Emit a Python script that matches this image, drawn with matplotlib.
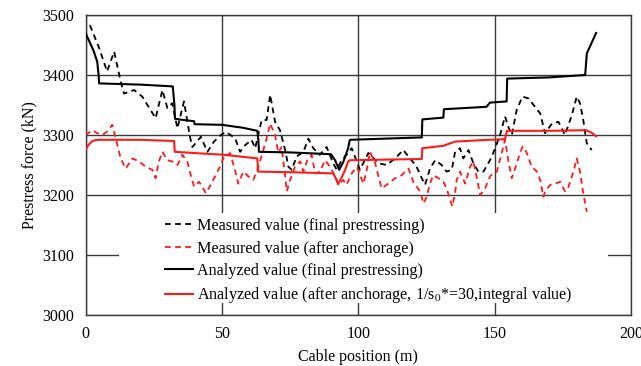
import matplotlib
matplotlib.use("Agg")
import matplotlib.pyplot as plt
from matplotlib.patches import Rectangle

plt.rcParams['font.family'] = ['Liberation Serif', 'DejaVu Serif']
plt.rcParams['mathtext.fontset'] = 'stix'

# measured value (final prestressing)
meas_final_x = [1.6, 5, 7.9, 10.5, 12.9, 14.1, 17.8, 20.8, 25.7, 28.2, 30, 31.8, 33.7, 36.1, 38.3,
                39.2, 42.3, 44.7, 47.1, 49.6, 51.5, 54.8, 56.7, 58.5, 60.9, 62.2, 64.6, 66.4, 67.7, 69.5,
                71.3, 73.2, 74.4, 75.6, 77.4, 79.9, 81.7, 83.5, 85.9, 88.4, 90.8, 92.1, 93.9, 95.7, 97.6,
                100.6, 103.7, 107.4, 110.4, 113.5, 116.5, 119, 121.4, 123.3, 124.5, 126.3, 128.2, 130.6,
                132.4, 134.3, 135.5, 137.3, 138.5, 140.4, 142.2, 144, 145.9, 148.3, 149.5, 152, 153.8,
                155, 156.3, 158.1, 160.2, 162.4, 164.8, 166.7, 168.5, 171, 173.4, 175.8, 178.3, 180.1,
                181.3, 182.5, 183.8, 185.6]
meas_final_y = [3483, 3445, 3406, 3439, 3389, 3369, 3375, 3364, 3328, 3375, 3345, 3353, 3311, 3356, 3297,
                3280, 3297, 3272, 3289, 3300, 3305, 3295, 3272, 3283, 3292, 3278, 3325, 3325, 3367, 3322,
                3308, 3275, 3247, 3242, 3264, 3272, 3294, 3278, 3267, 3280, 3253, 3242, 3258, 3267, 3278,
                3242, 3270, 3253, 3250, 3261, 3275, 3261, 3247, 3228, 3217, 3244, 3258, 3250,
                3239, 3242, 3272, 3278, 3261, 3275, 3253, 3239, 3239, 3258, 3270, 3300, 3331,
                3314, 3300, 3342, 3364, 3361, 3347, 3336, 3303, 3319, 3322, 3300, 3333, 3364,
                3353, 3325, 3286, 3275]

# measured value (after anchorage)
meas_anch_x = [0, 2.5, 4.3, 6.2, 8, 9.8, 11.7, 12.9, 14.7, 17.2, 19.6, 22.1, 24.5, 25.7, 26.9,
               28.2, 30, 31.8, 33.7, 35.5, 37.3, 38.6, 39.8, 41.6, 42.8, 44.1, 45.9, 47.7, 49.6, 50.5,
               53, 54.8, 56, 57.9, 59.7, 61.5, 63.4, 65.2, 66.4, 67.7, 69.5, 70.7, 71.9, 73.2, 73.8,
               75, 76.8, 78.7, 79.9, 81.3, 82.9, 84.2, 86, 87.8, 89.7, 91.5, 92.7, 94.5, 95.7, 97.6,
               99.5, 101.9, 103.1, 104.3, 106.2, 107.4, 108.6, 111, 113.5, 115.9, 118.4, 120.2, 121.4,
               122.7, 123.9, 125.1, 126.3, 127.5, 129.4, 131.2, 132.4, 133.7, 134.5, 135.5, 136.1,
               137.3, 139.2, 141, 142.2, 143.5, 144.7, 146.5, 148.3, 149.5, 150.8, 152.6, 153.8, 155,
               156.3, 157.5, 159.3, 160.3, 161.8, 163.6, 165.5, 166.7, 167.9, 168.5, 170.4, 172.2,
               174, 175.8, 177.1, 178.9, 180.1, 181.3, 182.5, 183.8]
meas_anch_y = [3300, 3308, 3303, 3300, 3306, 3317, 3283, 3261, 3244, 3261, 3256, 3247, 3242, 3228, 3256,
               3272, 3258, 3256, 3250, 3267, 3256, 3233, 3214, 3222, 3214, 3203, 3217, 3233, 3250, 3261,
               3270, 3242, 3219, 3239, 3231, 3225, 3247, 3275, 3294, 3319, 3300, 3270, 3280, 3231, 3206,
               3225, 3247, 3256, 3239, 3258, 3267, 3236, 3239, 3258, 3247, 3231, 3217, 3225, 3217, 3236,
               3247, 3219, 3242, 3272, 3253, 3231, 3211, 3219, 3228, 3233, 3244, 3222, 3214,
               3206, 3186, 3197, 3219, 3233, 3228, 3222, 3211, 3192, 3181, 3203, 3225,
               3239, 3219, 3247, 3256, 3228, 3200, 3211, 3231, 3236, 3239, 3270, 3292, 3258,
               3228, 3244, 3270, 3281, 3270, 3247, 3239, 3225, 3197, 3206, 3217, 3219,
               3222, 3206, 3214, 3239, 3261, 3239, 3203, 3172]

# analyzed value (final prestressing)
ana_final_x = [0, 1.5, 3, 4.3, 4.8, 5, 20, 32, 32.6, 32.8, 36, 39.8, 40, 50, 57.8, 63, 63.4, 63.6,
               75, 90, 91.5, 93, 94.5, 96.3, 96.8, 97, 110, 123.3, 123.5, 131.2, 131.4, 147, 148.3,
               154.4, 154.6, 170, 183.2, 183.8, 187.2]
ana_final_y = [3470, 3455, 3440, 3422, 3400, 3386, 3384, 3381, 3350, 3327, 3325, 3323, 3318, 3317, 3312,
               3307, 3290, 3272, 3271, 3268, 3258, 3242, 3255, 3278, 3290, 3292, 3294, 3296, 3326, 3329,
               3343, 3347, 3354, 3356, 3394, 3396, 3400, 3436, 3470]

# analyzed value (after anchorage)
ana_anch_x = [0, 1, 2.5, 4.3, 20, 32.5, 32.7, 39.8, 50.8, 63, 63.3, 75, 90.8, 92, 92.6, 94, 95.2, 96.3,
              97, 110, 123.3, 123.5, 131.2, 135.5, 147.7, 153.8, 154.5, 170, 183.5, 185.5, 187.2]
ana_anch_y = [3275, 3283, 3290, 3292, 3292, 3290, 3272, 3270, 3267, 3261, 3239, 3238, 3236, 3226, 3218,
              3230, 3242, 3256, 3258, 3259, 3260, 3278, 3282, 3289, 3292, 3293, 3307, 3307, 3308, 3304, 3298]

labels = ["Measured value (final prestressing)",
          "Measured value (after anchorage)",
          "Analyzed value (final prestressing)",
          "Analyzed value (after anchorage, 1/s$_0$*=30,integral value)"]

fig = plt.figure(figsize=(6.41, 3.66), dpi=100)
ax = fig.add_axes([0.1334, 0.1393, 0.851, 0.8197])

dash = (0, (3.2, 2.4))
l1, = ax.plot(meas_final_x, meas_final_y, color='black', lw=1.3, linestyle=dash, zorder=3)
l2, = ax.plot(meas_anch_x, meas_anch_y, color='#ff1a1a', lw=1.3, linestyle=dash, zorder=3)
l3, = ax.plot(ana_final_x, ana_final_y, color='black', lw=1.5, zorder=4)
l4, = ax.plot(ana_anch_x, ana_anch_y, color='#ff1a1a', lw=1.5, zorder=4)

ax.set_xlim(0, 200)
ax.set_ylim(3000, 3500)
ax.set_xticks([0, 50, 100, 150, 200])
ax.set_yticks([3000, 3100, 3200, 3300, 3400, 3500])
ax.grid(True, color='#3a3a3a', lw=1.0)
ax.set_axisbelow(True)
ax.tick_params(length=0, labelsize=11.5, pad=8)
for s in ax.spines.values():
    s.set_color('#3a3a3a')
    s.set_linewidth(1.0)

ax.set_xlabel("Cable position (m)", fontsize=11.5, labelpad=5)
ax.set_ylabel("Prestress force (kN)", fontsize=11.5, labelpad=4)

# white box behind legend hiding the grid
ax.add_patch(Rectangle((0.061, 0.04), 0.897, 0.30, transform=ax.transAxes,
                       facecolor='white', edgecolor='none', zorder=2))

ax.legend([l1, l2, l3, l4], labels, loc='upper left', bbox_to_anchor=(0.146, 0.323),
          frameon=False, fontsize=11.6, handlelength=1.75, handletextpad=0.25,
          labelspacing=0.4, borderpad=0, borderaxespad=0)

plt.savefig("out.png", dpi=100)
